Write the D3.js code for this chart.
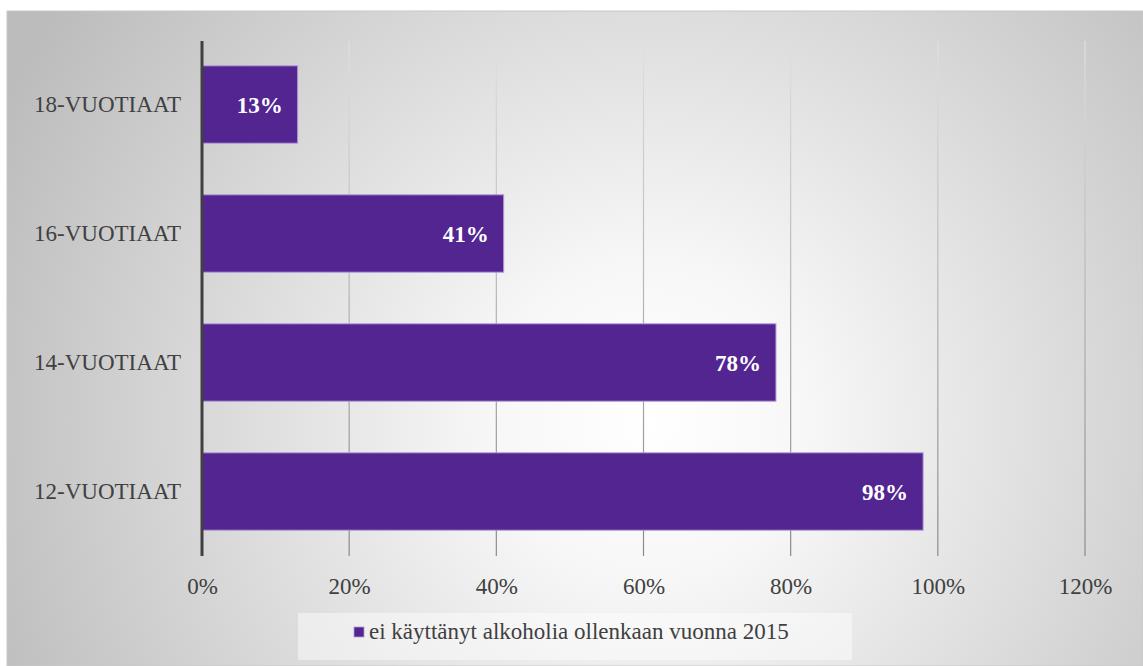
<!DOCTYPE html>
<html><head><meta charset="utf-8">
<script src="https://cdn.jsdelivr.net/npm/d3@7"></script>
<style>html,body{margin:0;padding:0;background:#fff;}svg{display:block;}</style>
</head><body>
<svg id="c" width="1143" height="666"></svg>
<script>
const categories = ["18-VUOTIAAT", "16-VUOTIAAT", "14-VUOTIAAT", "12-VUOTIAAT"];
const values = [0.13, 0.41, 0.78, 0.98];
const valueLabels = ["13%", "41%", "78%", "98%"];
const tickValues = [0, 0.2, 0.4, 0.6, 0.8, 1.0, 1.2];
const seriesName = "ei käyttänyt alkoholia ollenkaan vuonna 2015";

const font = "Liberation Serif, Tinos, Times New Roman, serif";
const cnv = document.createElement("canvas").getContext("2d");
cnv.font = "100px " + font;
const fs = Math.min(23, Math.max(19, 154 / cnv.measureText("18-VUOTIAAT").width * 100));

const svg = d3.select("#c");
const defs = svg.append("defs");
const rg = defs.append("radialGradient").attr("id","bg")
  .attr("gradientUnits","userSpaceOnUse").attr("cx",650).attr("cy",420).attr("r",720);
rg.append("stop").attr("offset","0").attr("stop-color","#ffffff");
rg.append("stop").attr("offset","0.22").attr("stop-color","#f7f7f7");
rg.append("stop").attr("offset","1").attr("stop-color","#bcbcbc");
const gg = defs.append("linearGradient").attr("id","grid")
  .attr("gradientUnits","userSpaceOnUse").attr("x1",0).attr("y1",41).attr("x2",0).attr("y2",556);
gg.append("stop").attr("offset","0").attr("stop-color","#e0e0e0");
gg.append("stop").attr("offset","1").attr("stop-color","#8a8a8a");

svg.append("rect").attr("x",7).attr("y",11).attr("width",1136).attr("height",655)
  .attr("fill","url(#bg)").attr("stroke","#c8c8c8").attr("stroke-width",1);

const x = d3.scaleLinear().domain([0,1.2]).range([202,1085]);
const y = d3.scaleBand().domain(categories).range([40,556]).paddingInner(0.4).paddingOuter(0.2);

// gridlines
svg.append("g").selectAll("line").data(tickValues.slice(1)).join("line")
  .attr("x1",d=>x(d)).attr("x2",d=>x(d)).attr("y1",41).attr("y2",556)
  .attr("stroke","url(#grid)").attr("stroke-width",1.2);

// x axis tick labels
const xAxis = d3.axisBottom(x).tickValues(tickValues).tickFormat(d3.format(".0%")).tickSize(0).tickPadding(0);
const gx = svg.append("g").attr("transform","translate(0,578)").call(xAxis);
gx.select(".domain").remove();
gx.selectAll("text").attr("font-family",font).attr("font-size",fs).attr("fill","#404040");

// bars
svg.append("g").selectAll("rect").data(values).join("rect")
  .attr("x",x(0)).attr("y",(d,i)=>y(categories[i]))
  .attr("width",d=>x(d)-x(0)).attr("height",y.bandwidth())
  .attr("fill","#522590").attr("stroke","#b49bd8").attr("stroke-width",1);

// value labels
svg.append("g").selectAll("text").data(values).join("text")
  .attr("x",d=>x(d)-15).attr("y",(d,i)=>y(categories[i])+y.bandwidth()/2)
  .attr("dy","0.35em").attr("text-anchor","end")
  .attr("font-family",font).attr("font-size",fs).attr("font-weight","bold").attr("fill","#ffffff")
  .text((d,i)=>valueLabels[i]);

// y axis
const yAxis = d3.axisLeft(y).tickSize(0).tickPadding(21);
const gy = svg.append("g").attr("transform","translate(202,0)").call(yAxis);
gy.select(".domain").remove();
gy.selectAll("text").attr("font-family",font).attr("font-size",fs).attr("fill","#404040");
svg.append("line").attr("x1",202).attr("x2",202).attr("y1",41).attr("y2",556)
  .attr("stroke","#404040").attr("stroke-width",3);

// legend
svg.append("rect").attr("x",298).attr("y",613).attr("width",554).attr("height",47)
  .attr("fill","#ffffff").attr("fill-opacity",0.45);
svg.append("rect").attr("x",354).attr("y",627).attr("width",10).attr("height",10)
  .attr("fill","#522590").attr("stroke","#b49bd8").attr("stroke-width",0.8);
svg.append("text").attr("x",369).attr("y",637).attr("dy","0.1em")
  .attr("font-family",font).attr("font-size",fs).attr("fill","#404040").text(seriesName);
</script>
</body></html>
